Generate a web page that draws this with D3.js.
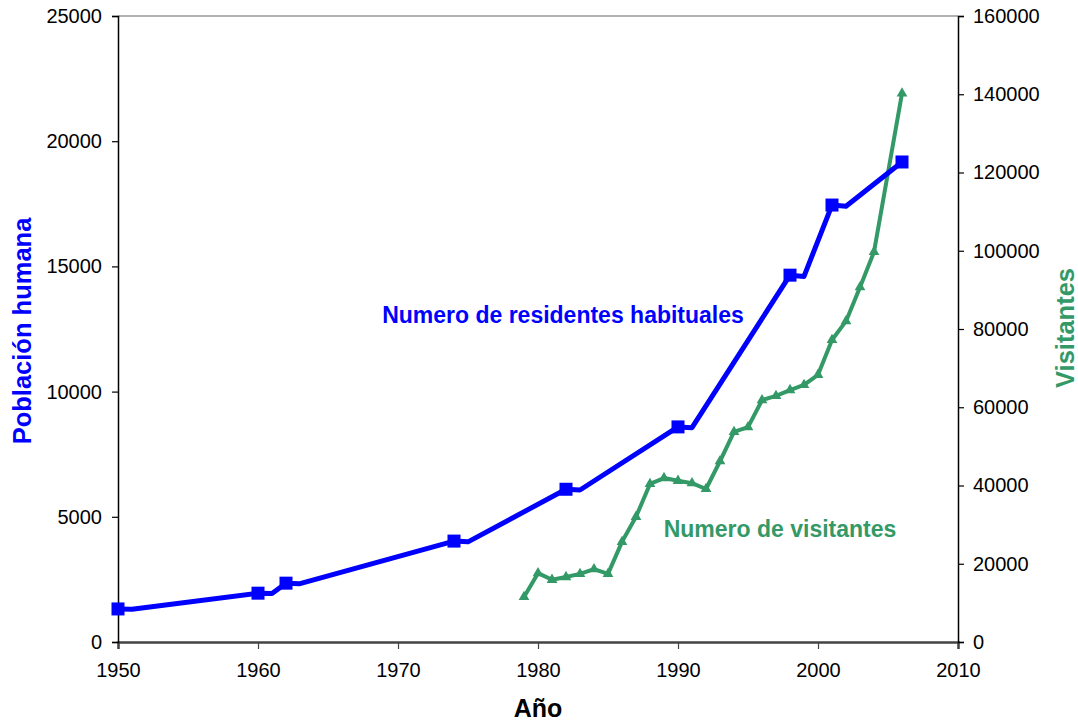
<!DOCTYPE html>
<html>
<head>
<meta charset="utf-8">
<script src="https://cdn.jsdelivr.net/npm/d3@7"></script>
<style>
  body { margin: 0; background: #fff; }
  svg { font-family: "Liberation Sans", Arial, sans-serif; }
</style>
</head>
<body>
<svg id="chart" width="1078" height="723"></svg>
<script>
// ** Data **
// census years (square markers)
var residentYears = [1950, 1960, 1962, 1974, 1982, 1990, 1998, 2001, 2006];
var residentValues = [1320, 1950, 2350, 4030, 6100, 8590, 14650, 17450, 19170];

// vertices of the blue line as drawn (small flat hook after each census)
var residentLineYears = [1950, 1951, 1960, 1961, 1962, 1963, 1974, 1975, 1982, 1983,
                         1990, 1991, 1998, 1999, 2001, 2002, 2006];
var residentLineValues = [1320, 1310, 1950, 1940, 2350, 2330, 4030, 4000, 6100, 6070,
                          8590, 8560, 14650, 14600, 17450, 17400, 19170];

var visitorYears = [1979, 1980, 1981, 1982, 1983, 1984, 1985, 1986, 1987, 1988, 1989,
                    1990, 1991, 1992, 1993, 1994, 1995, 1996, 1997, 1998, 1999, 2000,
                    2001, 2002, 2003, 2004, 2006];
var visitorValues = [11500, 17600, 15900, 16600, 17400, 18600, 17400, 25600, 32000, 40400, 41900,
                     41200, 40600, 39100, 46200, 53700, 54900, 61800, 62900, 64400, 65700, 68300,
                     77200, 82000, 90700, 99700, 140200];

var xTicks = [1950, 1960, 1970, 1980, 1990, 2000, 2010];
var leftTicks = [0, 5000, 10000, 15000, 20000, 25000];
var rightTicks = [0, 20000, 40000, 60000, 80000, 100000, 120000, 140000, 160000];

// ** Layout **
const margin = { left: 118, right: 120, top: 16, bottom: 81 };
const width = 1078, height = 723;
const blue = "#0000ff";
const green = "#339966";
const tickFont = 20;

var svg = d3.select("#chart");

var x = d3.scaleLinear().domain([1950, 2010]).range([margin.left, width - margin.right]);
var yL = d3.scaleLinear().domain([0, 25000]).range([height - margin.bottom, margin.top]);
var yR = d3.scaleLinear().domain([0, 160000]).range([height - margin.bottom, margin.top]);

// top frame line
svg.append("line")
  .attr("x1", x(1950)).attr("x2", x(2010))
  .attr("y1", yL(25000)).attr("y2", yL(25000))
  .attr("stroke", "#999").attr("stroke-width", 1.5);

// axes
function styleAxis(g, color) {
  g.attr("font-size", tickFont).attr("font-family", "Liberation Sans, Arial, sans-serif");
  g.selectAll("path").attr("stroke", color).attr("stroke-width", 1.5);
  g.selectAll("line").attr("stroke", color).attr("stroke-width", 1.2);
  g.selectAll("text").attr("fill", "#000");
}

var gx = svg.append("g")
  .attr("transform", "translate(0," + yL(0) + ")")
  .call(d3.axisBottom(x).tickValues(xTicks).tickFormat(d3.format("d")).tickSizeOuter(0).tickSize(7).tickPadding(14));
styleAxis(gx, "#444");
gx.select("path").attr("stroke-width", 2.5);

var gl = svg.append("g")
  .attr("transform", "translate(" + x(1950) + ",0)")
  .call(d3.axisLeft(yL).tickValues(leftTicks).tickFormat(d3.format("d")).tickSizeOuter(0).tickSize(6).tickPadding(10));
styleAxis(gl, "#000");

var gr = svg.append("g")
  .attr("transform", "translate(" + x(2010) + ",0)")
  .call(d3.axisRight(yR).tickValues(rightTicks).tickFormat(d3.format("d")).tickSizeOuter(0).tickSize(6).tickPadding(9));
styleAxis(gr, "#000");

// ** Series **
var visitorPts = visitorYears.map(function(yr, i) { return [yr, visitorValues[i]]; });
var residentLinePts = residentLineYears.map(function(yr, i) { return [yr, residentLineValues[i]]; });
var residentPts = residentYears.map(function(yr, i) { return [yr, residentValues[i]]; });

svg.append("path")
  .datum(visitorPts)
  .attr("fill", "none")
  .attr("stroke", green)
  .attr("stroke-width", 4)
  .attr("stroke-linejoin", "round")
  .attr("d", d3.line().x(function(d) { return x(d[0]); }).y(function(d) { return yR(d[1]); }));

svg.selectAll(".tri")
  .data(visitorPts)
  .enter().append("path")
  .attr("class", "tri")
  .attr("transform", function(d) { return "translate(" + x(d[0]) + "," + yR(d[1]) + ")"; })
  .attr("d", d3.symbol().type(d3.symbolTriangle).size(50))
  .attr("fill", green);

svg.append("path")
  .datum(residentLinePts)
  .attr("fill", "none")
  .attr("stroke", blue)
  .attr("stroke-width", 5)
  .attr("stroke-linejoin", "round")
  .attr("stroke-linecap", "round")
  .attr("d", d3.line().x(function(d) { return x(d[0]); }).y(function(d) { return yL(d[1]); }));

svg.selectAll(".sq")
  .data(residentPts)
  .enter().append("rect")
  .attr("class", "sq")
  .attr("x", function(d) { return x(d[0]) - 6.5; })
  .attr("y", function(d) { return yL(d[1]) - 6.5; })
  .attr("width", 13).attr("height", 13)
  .attr("fill", blue);

// ** Labels **
svg.append("text")
  .attr("x", 563).attr("y", 323)
  .attr("text-anchor", "middle")
  .attr("font-size", 23).attr("font-weight", "bold")
  .attr("fill", blue)
  .text("Numero de residentes habituales");

svg.append("text")
  .attr("x", 780).attr("y", 537)
  .attr("text-anchor", "middle")
  .attr("font-size", 23).attr("font-weight", "bold")
  .attr("fill", green)
  .text("Numero de visitantes");

svg.append("text")
  .attr("x", 538).attr("y", 717)
  .attr("text-anchor", "middle")
  .attr("font-size", 25).attr("font-weight", "bold")
  .attr("fill", "#000")
  .text("Año");

svg.append("text")
  .attr("transform", "translate(31,331) rotate(-90)")
  .attr("text-anchor", "middle")
  .attr("font-size", 25.5).attr("font-weight", "bold")
  .attr("fill", blue)
  .text("Población humana");

svg.append("text")
  .attr("transform", "translate(1074,328) rotate(-90)")
  .attr("text-anchor", "middle")
  .attr("font-size", 25.5).attr("font-weight", "bold")
  .attr("fill", green)
  .text("Visitantes");
</script>
</body>
</html>
